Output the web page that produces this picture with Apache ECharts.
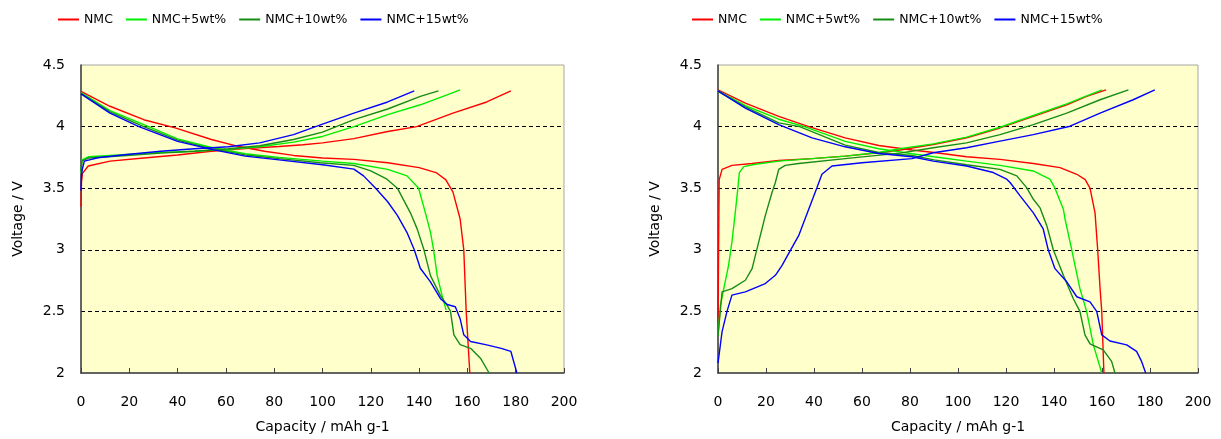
<!DOCTYPE html>
<html>
<head>
<meta charset="UTF-8">
<title>NMC charge / discharge</title>
<script src="https://cdn.jsdelivr.net/npm/echarts@6/dist/echarts.min.js"></script>
<style>
  html, body { margin: 0; padding: 0; background: #fff; }
  #main { width: 1221px; height: 439px; }
</style>
</head>
<body>
<div id="main"></div>
<script>
// series names / colours
var names = ['NMC', 'NMC+5wt%', 'NMC+10wt%', 'NMC+15wt%'];
var colors = ['#ff0000', '#00ee00', '#168c16', '#0000ff'];

// axis ticks
var xTicks = { min: 0, max: 200, step: 20 };
var yTicks = { min: 2, max: 4.5, step: 0.5 };

// left panel: [capacity, voltage]
var L_nmc_chg = [[0,3.35],[0.2,3.55],[0.6,3.62],[3,3.68],[12,3.72],[26,3.745],[40,3.77],[54,3.8],[68,3.822],[82,3.838],[92,3.853],[100,3.868],[113,3.902],[127,3.96],[139,4.0],[154,4.11],[168,4.2],[178,4.29]];
var L_nmc_dis = [[0,4.285],[12,4.165],[26,4.056],[39,3.99],[54,3.895],[65,3.84],[76,3.8],[88,3.766],[100,3.745],[113,3.734],[127,3.707],[140,3.667],[147,3.627],[151,3.57],[154,3.47],[157,3.25],[158.5,3.0],[159.5,2.5],[161,2.0]];
var L_5_chg = [[0,3.62],[0.4,3.73],[3,3.755],[19,3.774],[33,3.79],[47,3.8],[61,3.815],[74,3.836],[88,3.874],[100,3.92],[113,4.0],[127,4.097],[140.5,4.177],[151.6,4.258],[157,4.298]];
var L_5_dis = [[0,4.275],[12,4.13],[28,4.0],[40,3.9],[54,3.83],[68,3.78],[82,3.75],[100,3.72],[113,3.7],[127,3.653],[135,3.6],[139.8,3.5],[142.6,3.3],[144.7,3.143],[146,3.0],[147.5,2.79],[149.5,2.63],[151.2,2.51]];
var L_10_chg = [[0,3.64],[0.4,3.72],[3,3.745],[19,3.765],[33,3.785],[47,3.8],[61,3.82],[74,3.845],[88,3.895],[100,3.955],[113,4.056],[127,4.143],[140.5,4.245],[148,4.29]];
var L_10_dis = [[0,4.27],[12,4.12],[26,4.0],[40,3.89],[54,3.82],[68,3.77],[82,3.74],[99,3.707],[113,3.685],[120,3.64],[126.7,3.573],[131,3.5],[136.4,3.3],[139.2,3.17],[142,3.0],[144.7,2.79],[148.8,2.63],[151.6,2.55],[153,2.5],[154.4,2.31],[157,2.23],[161.3,2.2],[165.4,2.12],[169,2.0]];
var L_15_chg = [[0,3.48],[0.2,3.6],[0.6,3.66],[1.4,3.72],[7,3.747],[19,3.774],[33,3.8],[47,3.82],[61,3.836],[74,3.868],[88,3.935],[100,4.02],[113,4.11],[127,4.2],[138,4.29]];
var L_15_dis = [[0,4.265],[12,4.11],[24,4.0],[40,3.88],[54,3.815],[68,3.76],[82,3.73],[100,3.69],[113,3.655],[117,3.6],[122,3.5],[127,3.39],[131,3.28],[135,3.14],[138,3.0],[140.5,2.85],[144.7,2.74],[149,2.6],[151.6,2.556],[155,2.538],[157,2.44],[158.5,2.31],[161.3,2.256],[168,2.228],[174,2.2],[178,2.175],[180.5,2.0]];

// right panel
var R_nmc_chg = [[0,2.4],[0.3,3.15],[0.5,3.57],[1.7,3.653],[5.8,3.685],[14.2,3.7],[25.3,3.725],[39.2,3.74],[53,3.76],[67,3.788],[75.8,3.81],[89.7,3.855],[103.6,3.909],[117.5,3.989],[131.4,4.083],[145.3,4.177],[153.6,4.245],[161.7,4.298]];
var R_nmc_dis = [[0,4.298],[11.4,4.19],[25.3,4.083],[37.8,4.0],[53,3.909],[67,3.847],[80.8,3.81],[90,3.79],[103.6,3.755],[117.5,3.734],[131.4,3.7],[142.5,3.667],[149.5,3.613],[153,3.57],[155,3.5],[157.1,3.3],[158.2,3.0],[159.2,2.685],[159.9,2.5],[160.8,2.0]];
var R_5_chg = [[0,2.3],[1,2.55],[2.4,2.685],[4.4,2.874],[5.8,3.062],[7.2,3.304],[8.3,3.505],[8.9,3.627],[10.7,3.675],[15.6,3.694],[25.3,3.72],[39.2,3.74],[53,3.76],[67,3.79],[75.8,3.82],[89.7,3.86],[103.6,3.915],[117.5,3.995],[131.4,4.09],[145.3,4.185],[153.6,4.25],[160,4.298]];
var R_5_dis = [[0,4.29],[11.4,4.17],[25.3,4.06],[36,4.0],[53,3.88],[67,3.82],[80.8,3.78],[90,3.755],[103.6,3.72],[117.5,3.685],[131.4,3.64],[135.5,3.6],[138.3,3.573],[140.4,3.5],[143.9,3.33],[144.6,3.25],[147.4,3.0],[150.8,2.685],[153.6,2.5],[156.4,2.228],[159.9,2.0]];
var R_10_chg = [[0,2.3],[1.7,2.659],[5.8,2.685],[11.4,2.753],[14.2,2.847],[16.25,3.008],[19.7,3.277],[22.5,3.465],[23.9,3.546],[25.3,3.653],[28,3.685],[33.6,3.7],[53,3.74],[75.8,3.785],[89.7,3.828],[103.6,3.868],[117.5,3.935],[131.4,4.016],[145.3,4.11],[159.2,4.218],[171,4.298]];
var R_10_dis = [[0,4.285],[11.4,4.16],[25.3,4.03],[34,4.0],[53,3.85],[67,3.79],[80.8,3.765],[90,3.73],[103.6,3.69],[117.5,3.653],[124.5,3.6],[128.6,3.505],[131.4,3.41],[134.2,3.34],[137,3.196],[139.7,3.0],[143.9,2.793],[148,2.605],[150.8,2.5],[152.9,2.309],[155,2.236],[160.5,2.188],[164,2.094],[165.4,2.0]];
var R_15_chg = [[0,2.08],[1.7,2.336],[3.75,2.5],[5.8,2.632],[11.4,2.659],[19.7,2.726],[23.9,2.793],[26.7,2.874],[30.1,2.994],[33.6,3.115],[37.8,3.33],[41.25,3.505],[43.3,3.613],[47.5,3.68],[60,3.707],[80.8,3.74],[89.7,3.788],[103.6,3.828],[117.5,3.882],[131.4,3.935],[146.7,4.003],[159.2,4.11],[173,4.218],[182,4.298]];
var R_15_dis = [[0,4.29],[11.4,4.15],[25.3,4.016],[39.2,3.909],[53,3.836],[67,3.782],[80.8,3.755],[89.7,3.72],[103.6,3.68],[114.7,3.627],[120.3,3.573],[121.7,3.546],[125.8,3.44],[131.4,3.3],[135.5,3.169],[137.6,3.0],[140.4,2.847],[145.3,2.74],[149.5,2.619],[155,2.578],[157.8,2.5],[159.9,2.309],[163.3,2.26],[170.3,2.228],[174.4,2.175],[176.5,2.094],[178.2,2.0]];

var panels = [
  [[L_nmc_chg, L_nmc_dis], [L_5_chg, L_5_dis], [L_10_chg, L_10_dis], [L_15_chg, L_15_dis]],
  [[R_nmc_chg, R_nmc_dis], [R_5_chg, R_5_dis], [R_10_chg, R_10_dis], [R_15_chg, R_15_dis]]
];

var font = 'DejaVu Sans';
var grids = [
  { left: 81, top: 65, width: 483, height: 310 },
  { left: 718, top: 65, width: 480, height: 310 }
];
var legendLeft = [58, 692];

var option = {
  animation: false,
  textStyle: { fontFamily: font, color: '#000' },
  legend: [],
  grid: [],
  xAxis: [],
  yAxis: [],
  series: []
};

for (var p = 0; p < 2; p++) {
  option.grid.push({
    left: grids[p].left, top: grids[p].top,
    width: grids[p].width, height: grids[p].height,
    show: true, backgroundColor: '#ffffcc',
    borderColor: '#a6a6a6', borderWidth: 1
  });
  option.legend.push({
    left: legendLeft[p], top: 13, padding: 0,
    data: names,
    icon: 'rect',
    itemWidth: 21, itemHeight: 2, itemGap: 13,
    textStyle: { fontFamily: font, fontSize: 12.5, color: '#000' }
  });
  option.xAxis.push({
    type: 'value', gridIndex: p,
    min: xTicks.min, max: xTicks.max, interval: xTicks.step,
    name: 'Capacity / mAh g-1', nameLocation: 'middle', nameGap: 47,
    nameTextStyle: { fontFamily: font, fontSize: 14, color: '#000' },
    axisLine: { lineStyle: { color: '#404040', width: 1.5 } },
    axisTick: { inside: true, length: 5, lineStyle: { color: '#404040' } },
    axisLabel: { margin: 22, fontFamily: font, fontSize: 14, color: '#000' },
    splitLine: { show: false }
  });
  option.yAxis.push({
    type: 'value', gridIndex: p,
    min: yTicks.min, max: yTicks.max, interval: yTicks.step,
    name: 'Voltage / V', nameLocation: 'middle', nameGap: 56, nameRotate: 90,
    nameTextStyle: { fontFamily: font, fontSize: 14, color: '#000' },
    axisLine: { show: true, lineStyle: { color: '#404040', width: 1.5 } },
    axisTick: { show: false },
    axisLabel: { margin: 16, fontFamily: font, fontSize: 14, color: '#000' },
    splitLine: {
      show: true, showMinLine: false, showMaxLine: false,
      lineStyle: { color: '#000', type: [4, 3], width: 1.2 }
    }
  });
  for (var s = 0; s < 4; s++) {
    for (var k = 0; k < 2; k++) {
      option.series.push({
        name: names[s],
        type: 'line',
        xAxisIndex: p, yAxisIndex: p,
        data: panels[p][s][k],
        showSymbol: false, symbol: 'none',
        color: colors[s],
        lineStyle: { width: 1.4, color: colors[s] }
      });
    }
  }
}

var myChart = echarts.init(document.getElementById('main'));
myChart.setOption(option);
</script>
</body>
</html>
